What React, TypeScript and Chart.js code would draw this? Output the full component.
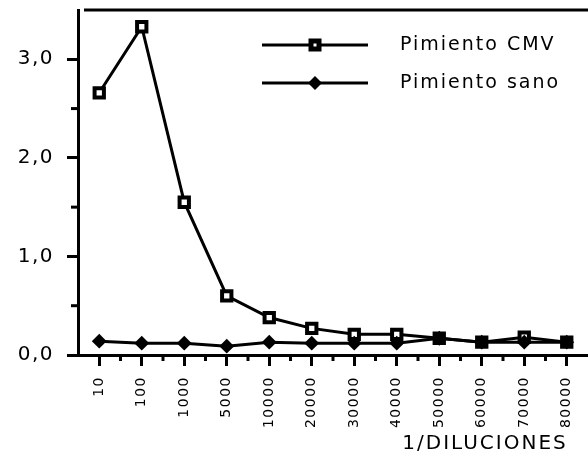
import { useEffect, useRef } from "react";
import { Chart, registerables } from "chart.js";

Chart.register(...registerables);

const categories = ["10", "100", "1000", "5000", "10000", "20000", "30000", "40000", "50000", "60000", "70000", "80000"];
const cmvValues = [2.66, 3.33, 1.55, 0.6, 0.38, 0.27, 0.21, 0.21, 0.17, 0.13, 0.18, 0.13];
const sanoValues = [0.14, 0.12, 0.12, 0.09, 0.13, 0.12, 0.12, 0.12, 0.17, 0.13, 0.13, 0.13];
const seriesLabels = ["Pimiento CMV", "Pimiento sano"];
const yMajorTicks = [0, 1, 2, 3];
const yMinorTicks = [0.5, 1.5, 2.5];
const xTitle = "1/DILUCIONES";

const FONT = "'DejaVu Sans', sans-serif";

const spacingPlugin = {
  id: "spacing",
  beforeLayout(chart: any) {
    chart.ctx.letterSpacing = "1.5px";
  },
  beforeDraw(chart: any) {
    chart.ctx.letterSpacing = "1.5px";
  },
};

const decorPlugin = {
  id: "decor",
  afterDraw(chart: any) {
    const { ctx, chartArea, scales } = chart;
    const x = scales.x;
    const y = scales.y;
    ctx.save();
    ctx.strokeStyle = "#000";
    ctx.lineWidth = 3;
    // top border
    ctx.beginPath();
    ctx.moveTo(chartArea.left + 6, chartArea.top);
    ctx.lineTo(chartArea.right, chartArea.top);
    ctx.stroke();
    // y minor ticks
    yMinorTicks.forEach((v) => {
      const py = y.getPixelForValue(v);
      ctx.beginPath();
      ctx.moveTo(chartArea.left - 7, py);
      ctx.lineTo(chartArea.left, py);
      ctx.stroke();
    });
    // x minor ticks
    for (let i = 0; i < categories.length - 1; i++) {
      const px = (x.getPixelForTick(i) + x.getPixelForTick(i + 1)) / 2;
      ctx.beginPath();
      ctx.moveTo(px, chartArea.bottom);
      ctx.lineTo(px, chartArea.bottom + 6);
      ctx.stroke();
    }
    // legend
    const textX = chartArea.right - 188;
    const lineStart = chartArea.right - 326;
    const lineEnd = chartArea.right - 220;
    const mid = (lineStart + lineEnd) / 2;
    chart.data.datasets.forEach((ds: any, i: number) => {
      const ly = chartArea.top + 35 + i * 38;
      ctx.lineWidth = 3;
      ctx.beginPath();
      ctx.moveTo(lineStart, ly);
      ctx.lineTo(lineEnd, ly);
      ctx.stroke();
      ctx.fillStyle = "#000";
      if (i === 0) {
        ctx.fillRect(mid - 6.5, ly - 6.5, 13, 13);
        ctx.fillStyle = "#fff";
        ctx.fillRect(mid - 1.5, ly - 1.5, 3, 3);
      } else {
        ctx.beginPath();
        ctx.moveTo(mid, ly - 7);
        ctx.lineTo(mid + 7, ly);
        ctx.lineTo(mid, ly + 7);
        ctx.lineTo(mid - 7, ly);
        ctx.closePath();
        ctx.fill();
      }
      ctx.fillStyle = "#000";
      ctx.font = `19px ${FONT}`;
      ctx.letterSpacing = "2px";
      ctx.textBaseline = "middle";
      ctx.textAlign = "left";
      ctx.fillText(ds.label, textX, ly);
    });
    // x axis title
    ctx.font = `20px ${FONT}`;
    ctx.letterSpacing = "2px";
    ctx.textAlign = "right";
    ctx.textBaseline = "middle";
    ctx.fillStyle = "#000";
    ctx.fillText(xTitle, x.getPixelForTick(categories.length - 1) + 1, chartArea.bottom + 89);
    ctx.restore();
  },
};

export default function App() {
  const ref = useRef<HTMLCanvasElement>(null);
  useEffect(() => {
    document.body.style.margin = "0";
    const canvas = ref.current!;
    const chart = new Chart(canvas, {
      type: "line",
      data: {
        labels: categories,
        datasets: [
          {
            label: seriesLabels[0],
            data: cmvValues,
            borderColor: "#000",
            borderWidth: 3,
            pointStyle: "rect",
            pointRadius: 6.6,
            pointBorderWidth: 4,
            pointBackgroundColor: "#fff",
            pointBorderColor: "#000",
            tension: 0,
            order: 1,
          },
          {
            label: seriesLabels[1],
            data: sanoValues,
            borderColor: "#000",
            borderWidth: 3,
            pointStyle: "rectRot",
            pointRadius: 6,
            pointBorderWidth: 2,
            pointBackgroundColor: "#000",
            pointBorderColor: "#000",
            tension: 0,
            order: 0,
          },
        ],
      },
      options: {
        responsive: false,
        animation: false,
        layout: { autoPadding: false, padding: { top: 10, left: 0, right: 0, bottom: 0 } },
        plugins: {
          legend: { display: false },
          tooltip: { enabled: false },
        },
        scales: {
          x: {
            type: "category",
            offset: true,
            grid: {
              display: true,
              drawOnChartArea: false,
              drawTicks: true,
              offset: false,
              tickLength: 11,
              tickWidth: 3,
              tickColor: "#000",
            },
            border: { display: true, color: "#000", width: 3 },
            ticks: {
              color: "#000",
              font: { family: FONT, size: 14 },
              minRotation: 90,
              maxRotation: 90,
              padding: 10,
              autoSkip: false,
            },
            afterFit(scale: any) {
              scale.height = 120;
              scale.paddingLeft = 0;
              scale.paddingRight = 0;
            },
          },
          y: {
            min: 0,
            max: 3.5,
            ticks: {
              color: "#000",
              font: { family: FONT, size: 20 },
              padding: 13,
              callback: (v: any) => Number(v).toFixed(1).replace(".", ","),
            },
            afterBuildTicks(scale: any) {
              scale.ticks = yMajorTicks.map((v) => ({ value: v }));
            },
            grid: {
              display: true,
              drawOnChartArea: false,
              drawTicks: true,
              tickLength: 11,
              tickWidth: 3,
              tickColor: "#000",
            },
            border: { display: true, color: "#000", width: 3 },
            afterFit(scale: any) {
              scale.width = 78;
              scale.paddingTop = 0;
              scale.paddingBottom = 0;
            },
          },
        },
      },
      plugins: [spacingPlugin, decorPlugin],
    } as any);
    return () => chart.destroy();
  }, []);
  return (
    <div style={{ width: 588, height: 475 }}>
      <canvas ref={ref} width={588} height={475} style={{ display: "block" }} />
    </div>
  );
}
